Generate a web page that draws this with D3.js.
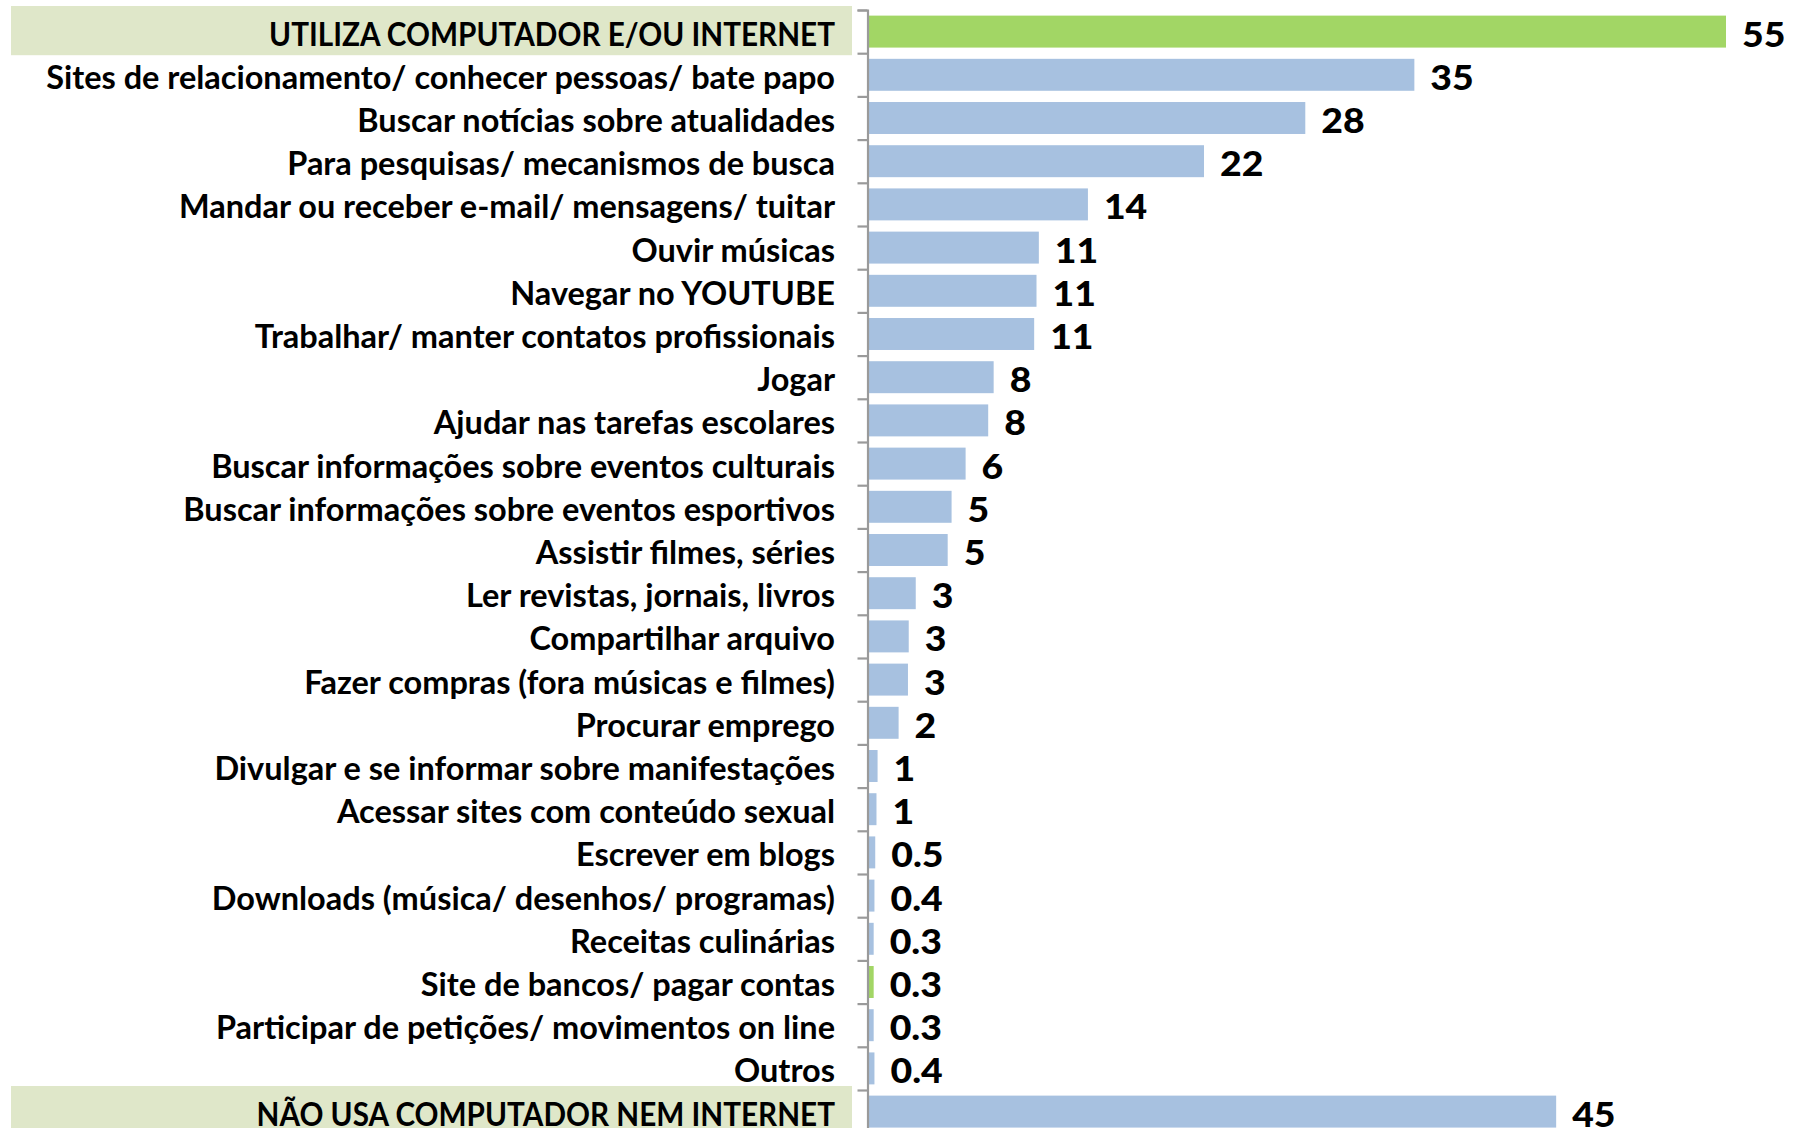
<!DOCTYPE html>
<html>
<head>
<meta charset="utf-8">
<script src="https://cdn.jsdelivr.net/npm/d3@7"></script>
<style>
  html, body { margin: 0; padding: 0; background: #fff; }
  svg { display: block; }
  .name { font-family: Lato, 'Open Sans', sans-serif; font-weight: 700; fill: #000; }
  .value { font-family: Lato, 'Open Sans', sans-serif; font-weight: 900; fill: #000; }
</style>
</head>
<body>
<div id="chart"></div>
<script>
// categories, top to bottom
const categories = [
  'UTILIZA COMPUTADOR E/OU INTERNET',
  'Sites de relacionamento/ conhecer pessoas/ bate papo',
  'Buscar notícias sobre atualidades',
  'Para pesquisas/ mecanismos de busca',
  'Mandar ou receber e-mail/ mensagens/ tuitar',
  'Ouvir músicas',
  'Navegar no YOUTUBE',
  'Trabalhar/ manter contatos profissionais',
  'Jogar',
  'Ajudar nas tarefas escolares',
  'Buscar informações sobre eventos culturais',
  'Buscar informações sobre eventos esportivos',
  'Assistir filmes, séries',
  'Ler revistas, jornais, livros',
  'Compartilhar arquivo',
  'Fazer compras (fora músicas e filmes)',
  'Procurar emprego',
  'Divulgar e se informar sobre manifestações',
  'Acessar sites com conteúdo sexual',
  'Escrever em blogs',
  'Downloads (música/ desenhos/ programas)',
  'Receitas culinárias',
  'Site de bancos/ pagar contas',
  'Participar de petições/ movimentos on line',
  'Outros',
  'NÃO USA COMPUTADOR NEM INTERNET',
];

// bar lengths (unrounded)
const values = [
  55, 35.0, 28.0, 21.5, 14.05, 10.9, 10.75, 10.6, 8.0, 7.65, 6.2, 5.3, 5.05,
  3.0, 2.55, 2.5, 1.9, 0.55, 0.48, 0.4, 0.35, 0.3, 0.3, 0.3, 0.35, 44.1,
];

// printed labels
const valueLabels = [
  '55', '35', '28', '22', '14', '11', '11', '11', '8', '8', '6', '5', '5',
  '3', '3', '3', '2', '1', '1', '0.5', '0.4', '0.3', '0.3', '0.3', '0.4', '45',
];

const headers = [0, 25];
const greenBars = [0, 22];

const width = 1802;
const height = 1128;
const margin = { top: 10, left: 869, right: 76 };
const bandH = 43.2;

const green = '#a2d665';
const blue = '#a7c1e0';
const headerBg = '#dfe7c9';
const axisGrey = '#9a9a9a';

const idx = d3.range(categories.length);

const y = d3.scaleBand()
  .domain(idx)
  .range([margin.top, margin.top + bandH * categories.length])
  .paddingInner(0.26)
  .paddingOuter(0.13);

const x = d3.scaleLinear()
  .domain([0, 55])
  .range([margin.left, 1726]);

// boundaries between categories for tick marks
const yEdge = d3.scaleLinear()
  .domain([0, categories.length])
  .range([margin.top, margin.top + bandH * categories.length]);

const svg = d3.select('#chart')
  .append('svg')
  .attr('width', width)
  .attr('height', height)
  .attr('viewBox', [0, 0, width, height]);

// header backgrounds
svg.append('g')
  .selectAll('rect')
  .data(headers)
  .join('rect')
  .attr('x', 11)
  .attr('width', 852 - 11)
  .attr('y', (d) => yEdge(d) - 4)
  .attr('height', bandH + 6)
  .attr('fill', headerBg);

// bars
svg.append('g')
  .selectAll('rect')
  .data(idx)
  .join('rect')
  .attr('x', x(0))
  .attr('y', (i) => y(i))
  .attr('width', (i) => x(values[i]) - x(0))
  .attr('height', y.bandwidth())
  .attr('fill', (i) => (greenBars.includes(i) ? green : blue));

// axis
const axis = svg.append('g')
  .attr('transform', `translate(${margin.left - 1.5},0)`)
  .call(
    d3.axisLeft(yEdge)
      .tickValues(d3.range(categories.length + 1))
      .tickFormat('')
      .tickSize(10)
      .tickSizeOuter(10),
  );
axis.selectAll('path, line')
  .attr('stroke', axisGrey)
  .attr('stroke-width', 2.2);

// category names
const names = svg.append('g')
  .selectAll('text')
  .data(idx)
  .join('text')
  .attr('class', 'name')
  .attr('text-anchor', 'end')
  .attr('font-size', 31.5)
  .text((i) => categories[i]);

// squeeze the names horizontally so the longest one fills its space,
// the all-caps headers a bit more (capitals run narrow in the original)
const textW = names.nodes().map((n) => n.getComputedTextLength());
const squeeze = 789 / d3.max(textW);
const headSqueeze = 566 / textW[0];
names.attr('transform', (i) => {
  const s = headers.includes(i) ? headSqueeze : squeeze;
  return `translate(835,${y(i) + y.bandwidth() / 2 + 14}) scale(${s},1)`;
});

// values, digits a little wider than Lato's
svg.append('g')
  .selectAll('text')
  .data(idx)
  .join('text')
  .attr('class', 'value')
  .attr('font-size', 34)
  .attr('transform', (i) => `translate(${x(values[i]) + 16},${y(i) + y.bandwidth() / 2 + 15}) scale(1.1,1)`)
  .text((i) => valueLabels[i]);
</script>
</body>
</html>
